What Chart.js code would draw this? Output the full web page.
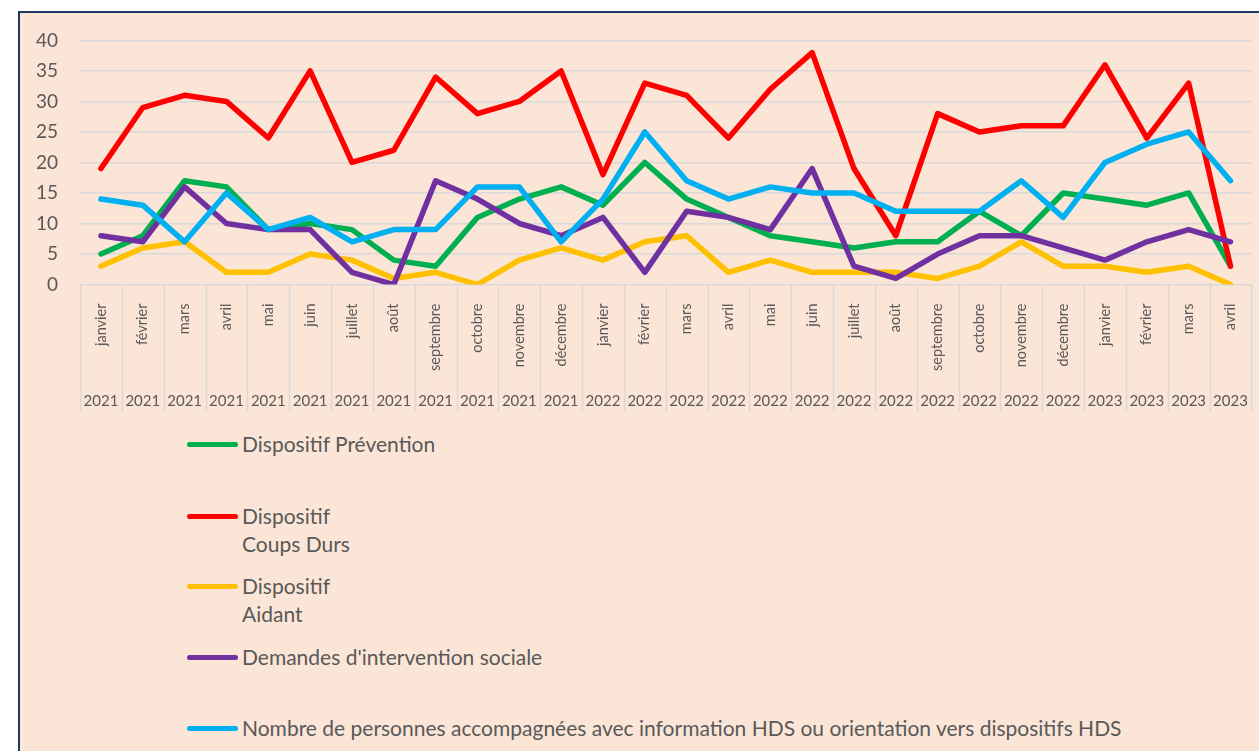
<!DOCTYPE html>
<html>
<head>
<meta charset="utf-8">
<script src="https://cdn.jsdelivr.net/npm/chart.js"></script>
<style>
  html, body { margin: 0; padding: 0; background: #fff; }
  body { width: 1259px; height: 751px; overflow: hidden; position: relative; font-family: Lato, sans-serif; }
  #frame { position: absolute; left: 18px; top: 11px; right: 0; bottom: 0;
           background: #FBE5D6; border-top: 2px solid #1F3864; border-left: 2px solid #1F3864; }
  #box { position: absolute; left: -21px; top: -6px; width: 1260px; height: 406px; }
  #legend { position: absolute; left: 0; top: 0; }
  .item { position: absolute; left: 167px; color: #595959; font-size: 21px; line-height: 28px; white-space: nowrap; }
  .item .mark { position: absolute; left: 0; top: 11.5px; width: 51px; height: 5px; border-radius: 3px; }
  .item .txt { margin-left: 55px; }
</style>
</head>
<body>
<div id="frame">
  <div id="box"><canvas id="myChart"></canvas></div>
  <div id="legend"></div>
</div>
<script>
// mois et années (axe à deux niveaux)
const mois = ['janvier','février','mars','avril','mai','juin','juillet','août','septembre','octobre','novembre','décembre',
              'janvier','février','mars','avril','mai','juin','juillet','août','septembre','octobre','novembre','décembre',
              'janvier','février','mars','avril'];
const annees = ['2021','2021','2021','2021','2021','2021','2021','2021','2021','2021','2021','2021',
                '2022','2022','2022','2022','2022','2022','2022','2022','2022','2022','2022','2022',
                '2023','2023','2023','2023'];

const prevention = [5, 8, 17, 16, 9, 10, 9, 4, 3, 11, 14, 16, 13, 20, 14, 11, 8, 7, 6, 7, 7, 12, 8, 15, 14, 13, 15, 3];
const coupsDurs  = [19, 29, 31, 30, 24, 35, 20, 22, 34, 28, 30, 35, 18, 33, 31, 24, 32, 38, 19, 8, 28, 25, 26, 26, 36, 24, 33, 3];
const aidant     = [3, 6, 7, 2, 2, 5, 4, 1, 2, 0, 4, 6, 4, 7, 8, 2, 4, 2, 2, 2, 1, 3, 7, 3, 3, 2, 3, 0];
const demandes   = [8, 7, 16, 10, 9, 9, 2, 0, 17, 14, 10, 8, 11, 2, 12, 11, 9, 19, 3, 1, 5, 8, 8, 6, 4, 7, 9, 7];
const hds        = [14, 13, 7, 15, 9, 11, 7, 9, 9, 16, 16, 7, 14, 25, 17, 14, 16, 15, 15, 12, 12, 12, 17, 11, 20, 23, 25, 17];

const series = [
  { nom: ['Dispositif Prévention'], data: prevention, couleur: '#00B050', top: 430 },
  { nom: ['Dispositif', 'Coups Durs'], data: coupsDurs, couleur: '#FF0000', top: 502 },
  { nom: ['Dispositif', 'Aidant'], data: aidant, couleur: '#FFC000', top: 572 },
  { nom: ["Demandes d'intervention sociale"], data: demandes, couleur: '#7030A0', top: 643 },
  { nom: ['Nombre de personnes accompagnées avec information HDS ou orientation vers dispositifs HDS'], data: hds, couleur: '#00B0F0', top: 714 }
];

Chart.defaults.font.family = 'Lato, sans-serif';
Chart.defaults.color = '#595959';

// traits verticaux entre les catégories, sous l'axe
const separateurs = {
  id: 'separateurs',
  afterDraw(chart) {
    const x = chart.scales.x, x2 = chart.scales.x2;
    const ctx = chart.ctx;
    const n = mois.length;
    const w = (x.right - x.left) / n;
    ctx.save();
    ctx.strokeStyle = '#D9D9D9';
    ctx.lineWidth = 1.5;
    ctx.beginPath();
    for (let i = 0; i <= n; i++) {
      const px = Math.round(x.left + i * w) + 0.5;
      ctx.moveTo(px, chart.chartArea.bottom);
      ctx.lineTo(px, x2.bottom);
    }
    ctx.stroke();
    ctx.restore();
  }
};

const ctx = document.getElementById('myChart').getContext('2d');
const chart = new Chart(ctx, {
  type: 'line',
  data: {
    labels: mois,
    datasets: series.map((s, i) => ({
      label: s.nom.join(' '),
      data: s.data,
      borderColor: s.couleur,
      backgroundColor: s.couleur,
      borderWidth: 5.5,
      pointRadius: 0,
      tension: 0,
      borderJoinStyle: 'round',
      borderCapStyle: 'round',
      order: series.length - i
    }))
  },
  options: {
    responsive: true,
    maintainAspectRatio: false,
    animation: false,
    layout: { padding: { top: 15, right: 6, left: 15, bottom: 1 } },
    plugins: { legend: { display: false }, tooltip: { enabled: false } },
    scales: {
      y: {
        min: 0, max: 40,
        ticks: { stepSize: 5, padding: 22, font: { size: 19 } },
        grid: { color: '#D9D9D9', lineWidth: 1.5, drawTicks: false },
        border: { display: false }
      },
      x: {
        offset: true,
        ticks: { autoSkip: false, minRotation: 90, maxRotation: 90, padding: 11, font: { size: 14.5 } },
        grid: { display: false },
        border: { display: false }
      },
      x2: {
        type: 'category',
        labels: annees,
        position: 'bottom',
        offset: true,
        ticks: { autoSkip: false, maxRotation: 0, minRotation: 0, padding: 2, font: { size: 15 } },
        grid: { display: false },
        border: { display: false }
      }
    }
  },
  plugins: [separateurs]
});

// légende
const leg = document.getElementById('legend');
chart.data.datasets.forEach((ds, i) => {
  const s = series[i];
  const d = document.createElement('div');
  d.className = 'item';
  d.style.top = (s.top - 13) + 'px';
  d.innerHTML = '<span class="mark" style="background:' + ds.borderColor + '"></span><div class="txt">' + s.nom.join('<br>') + '</div>';
  leg.appendChild(d);
});
</script>
</body>
</html>
